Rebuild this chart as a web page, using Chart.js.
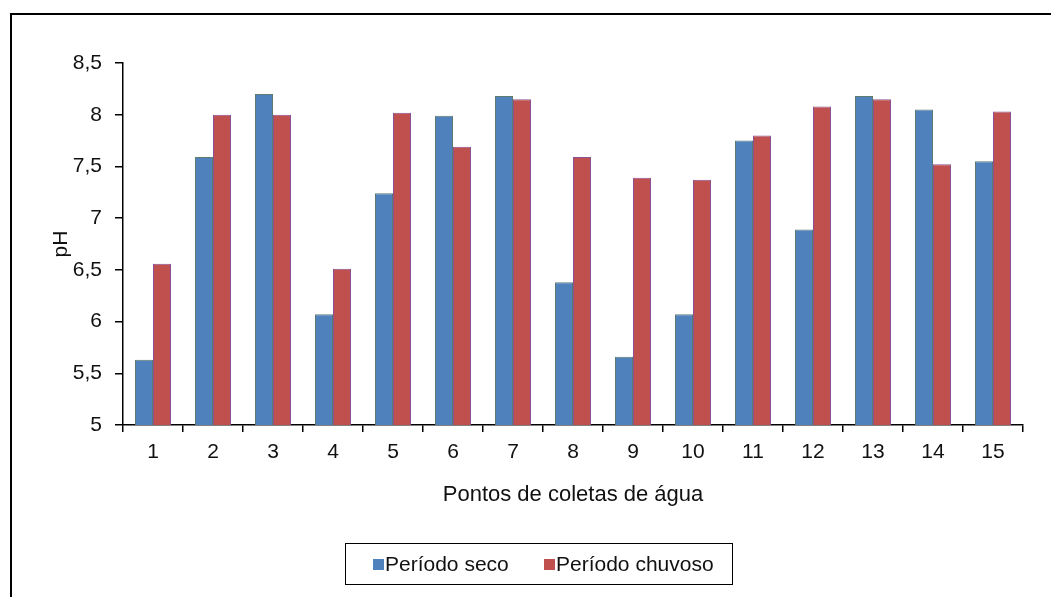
<!DOCTYPE html>
<html>
<head>
<meta charset="utf-8">
<script src="https://cdn.jsdelivr.net/npm/chart.js@4/dist/chart.umd.min.js"></script>
<style>
  body { margin: 0; background: #fff; overflow: hidden; }
  #wrap { position: relative; width: 1051px; height: 597px; overflow: hidden; }
  #frame { position: absolute; left: 10px; top: 13px; width: 1100px; height: 700px;
           border-left: 2px solid #000; border-top: 2px solid #000; }
  #myChart { position: absolute; left: 0; top: 0; }
  #legend { position: absolute; left: 345px; top: 543px; width: 386px; height: 40px;
            border: 1.5px solid #000; font: 21px "Liberation Sans", Arial, sans-serif; color: #111; }
  .item { position: absolute; top: 8px; line-height: 24px; }
  .sw { position: absolute; width: 11px; height: 11px; top: 7px; }
</style>
</head>
<body>
<div id="wrap">
  <div id="frame"></div>
  <canvas id="myChart" width="1051" height="597"></canvas>
  <div id="legend"></div>
</div>
<script>
var categories = ['1', '2', '3', '4', '5', '6', '7', '8', '9', '10', '11', '12', '13', '14', '15'];
var periodoSeco = [5.63, 7.59, 8.2, 6.07, 7.24, 7.99, 8.18, 6.38, 5.66, 6.07, 7.75, 6.89, 8.18, 8.05, 7.55];
var periodoChuvoso = [6.56, 8.0, 8.0, 6.51, 8.02, 7.69, 8.15, 7.59, 7.39, 7.37, 7.8, 8.08, 8.15, 7.52, 8.03];
var yTickLabels = ['5', '5,5', '6', '6,5', '7', '7,5', '8', '8,5'];
var seriesNames = ['Período seco', 'Período chuvoso'];

var font = "'Liberation Sans', Arial, sans-serif";

var ctx = document.getElementById('myChart').getContext('2d');
var myBarChart = new Chart(ctx, {
    type: 'bar',
    data: {
        labels: categories,
        datasets: [{
            label: seriesNames[0],
            backgroundColor: '#4f81bd',
            borderColor: '#5f7a70',
            borderWidth: 1,
            data: periodoSeco
        }, {
            label: seriesNames[1],
            backgroundColor: '#c0504d',
            borderColor: '#8a5292',
            borderWidth: 1,
            data: periodoChuvoso
        }]
    },
    options: {
        responsive: false,
        animation: false,
        layout: { padding: { left: 30, right: 28, top: 63, bottom: 77 } },
        datasets: { bar: { categoryPercentage: 0.6, barPercentage: 1.0 } },
        plugins: { legend: { display: false }, tooltip: { enabled: false } },
        scales: {
            x: {
                grid: { drawOnChartArea: false, offset: true, tickLength: 7, color: '#000', lineWidth: 1.5 },
                border: { color: '#000', width: 1.5 },
                ticks: { color: '#111', font: { family: font, size: 21 }, padding: 8 },
                title: { display: true, text: 'Pontos de coletas de água', color: '#111',
                         font: { family: font, size: 22 }, padding: { top: 0, bottom: 12 } },
                afterFit: function (scale) { scale.height = 95; }
            },
            y: {
                min: 5,
                max: 8.5,
                grid: { drawOnChartArea: false, tickLength: 8, color: '#000', lineWidth: 1.5 },
                border: { color: '#000', width: 1.5 },
                ticks: {
                    stepSize: 0.5,
                    color: '#111',
                    font: { family: font, size: 21 },
                    padding: 13,
                    callback: function (value, index) { return yTickLabels[index]; }
                },
                title: { display: true, text: 'pH', color: '#111',
                         font: { family: font, size: 21 }, padding: { top: 19, bottom: 0 } },
                afterFit: function (scale) { scale.width = 93; }
            }
        }
    }
});

// legend box below the chart, using the dataset colours
var legend = document.getElementById('legend');
var swX = [27, 198];
myBarChart.data.datasets.forEach(function (ds, i) {
    var sw = document.createElement('div');
    sw.className = 'sw';
    sw.style.left = swX[i] + 'px';
    sw.style.top = '15px';
    sw.style.background = ds.backgroundColor;
    legend.appendChild(sw);
    var item = document.createElement('div');
    item.className = 'item';
    item.style.left = (swX[i] + 12) + 'px';
    item.textContent = ds.label;
    legend.appendChild(item);
});
</script>
</body>
</html>
